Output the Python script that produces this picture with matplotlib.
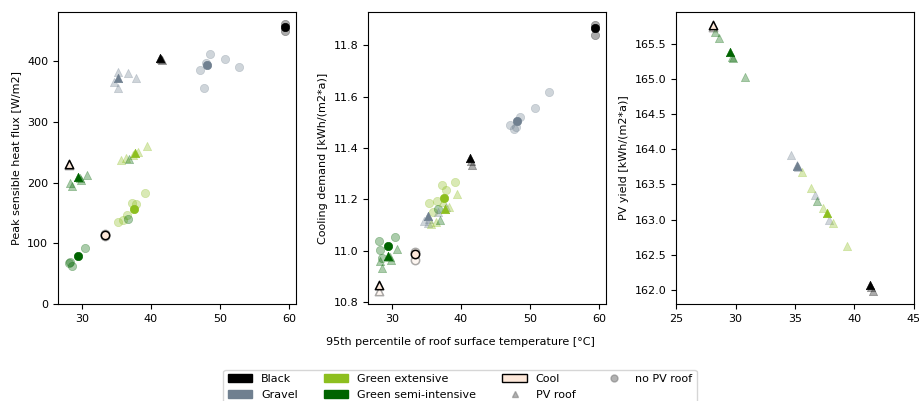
import matplotlib.pyplot as plt
from matplotlib.patches import Patch
from matplotlib.lines import Line2D

plt.rcParams['font.family'] = ['DejaVu Sans']
plt.rcParams['font.size'] = 8

# roofs without PV (first point of each roof type = reference variant)
nopv_roof = ['Black', 'Black', 'Black',
             'Gravel', 'Gravel', 'Gravel', 'Gravel', 'Gravel', 'Gravel', 'Gravel',
             'Cool', 'Cool', 'Cool',
             'Green extensive', 'Green extensive', 'Green extensive', 'Green extensive',
             'Green extensive', 'Green extensive', 'Green extensive',
             'Green semi-intensive', 'Green semi-intensive', 'Green semi-intensive',
             'Green semi-intensive', 'Green semi-intensive', 'Green semi-intensive']
nopv_main = [1, 0, 0,
             1, 0, 0, 0, 0, 0, 0,
             1, 0, 0,
             1, 0, 0, 0, 0, 0, 0,
             1, 0, 0, 0, 0, 0]
nopv_temp = [59.5, 59.5, 59.5,
             48.2, 47.1, 48.5, 47.7, 50.7, 52.8, 48.0,
             33.4, 33.4, 33.4,
             37.6, 35.3, 35.9, 36.6, 37.2, 37.9, 39.2,
             29.4, 28.1, 28.5, 30.5, 28.3, 36.7]
nopv_flux = [456, 450, 461,
             393, 385, 412, 356, 403, 390, 397,
             114, 112, 116,
             157, 135, 138, 146, 167, 164, 183,
             79, 67, 63, 92, 69, 140]
nopv_cool = [11.867, 11.839, 11.877,
             11.506, 11.490, 11.519, 11.474, 11.556, 11.617, 11.483,
             10.986, 10.963, 10.995,
             11.205, 11.187, 11.150, 11.195, 11.257, 11.235, 11.266,
             11.020, 11.037, 10.973, 11.053, 11.002, 11.164]

# roofs with PV
pv_roof = ['Black', 'Black', 'Black',
           'Gravel', 'Gravel', 'Gravel', 'Gravel', 'Gravel', 'Gravel',
           'Cool', 'Cool',
           'Green extensive', 'Green extensive', 'Green extensive',
           'Green extensive', 'Green extensive', 'Green extensive',
           'Green semi-intensive', 'Green semi-intensive', 'Green semi-intensive',
           'Green semi-intensive', 'Green semi-intensive', 'Green semi-intensive',
           'Green semi-intensive']
pv_main = [1, 0, 0,
           1, 0, 0, 0, 0, 0,
           1, 0,
           1, 0, 0, 0, 0, 0,
           1, 0, 0, 0, 0, 0, 0]
pv_temp = [41.35, 41.6, 41.45,
           35.2, 34.7, 35.3, 35.2, 36.7, 37.9,
           28.1, 28.1,
           37.7, 35.6, 36.4, 37.4, 38.2, 39.4,
           29.5, 29.8, 29.7, 28.3, 28.6, 30.8, 36.9]
pv_flux = [405, 402, 404,
           373, 366, 382, 355, 380, 373,
           230, 229,
           248, 237, 240, 246, 250, 260,
           209, 205, 207, 200, 194, 213, 238]
pv_cool = [11.360, 11.335, 11.350,
           11.135, 11.115, 11.125, 11.110, 11.150, 11.170,
           10.867, 10.845,
           11.161, 11.105, 11.112, 11.190, 11.170, 11.222,
           10.981, 10.964, 10.975, 10.960, 10.932, 11.009, 11.119]
pv_yield = [162.07, 161.99, 162.04,
            163.76, 163.92, 163.74, 163.78, 163.35, 163.00,
            165.76, 165.74,
            163.10, 163.68, 163.45, 163.16, 162.95, 162.62,
            165.38, 165.29, 165.31, 165.67, 165.58, 165.02, 163.27]

roof_types = ['Black', 'Gravel', 'Green extensive', 'Green semi-intensive', 'Cool']
face = {'Black': 'black', 'Gravel': '#708090', 'Green extensive': '#8dbf1f',
        'Green semi-intensive': '#006400', 'Cool': '#fde8da'}
edge = {'Black': 'black', 'Gravel': '#708090', 'Green extensive': '#8dbf1f',
        'Green semi-intensive': '#006400', 'Cool': 'black'}

fig = plt.figure(figsize=(9.2, 4.01), dpi=100)
ax1 = fig.add_axes([0.063, 0.242, 0.259, 0.728])
ax2 = fig.add_axes([0.400, 0.242, 0.259, 0.728])
ax3 = fig.add_axes([0.735, 0.242, 0.258, 0.728])


def draw(ax, roofs, mains, xs, ys, marker):
    # faded variants first, reference variants on top
    for highlight in (0, 1):
        for r, m, x, y in zip(roofs, mains, xs, ys):
            if m != highlight:
                continue
            lw = 1.1 if r == 'Cool' else 0.5
            ax.scatter(x, y, s=36, marker=marker, facecolor=face[r],
                       edgecolor=edge[r], linewidth=lw,
                       alpha=1.0 if m else 0.33, zorder=3 if m else 2)


draw(ax1, nopv_roof, nopv_main, nopv_temp, nopv_flux, 'o')
draw(ax1, pv_roof, pv_main, pv_temp, pv_flux, '^')
ax1.set_ylim(bottom=0)
ax1.set_xticks([30, 40, 50, 60])
ax1.set_ylabel('Peak sensible heat flux [W/m2]')

draw(ax2, nopv_roof, nopv_main, nopv_temp, nopv_cool, 'o')
draw(ax2, pv_roof, pv_main, pv_temp, pv_cool, '^')
ax2.set_xticks([30, 40, 50, 60])
ax2.set_ylabel('Cooling demand [kWh/(m2*a)]')

draw(ax3, pv_roof, pv_main, pv_temp, pv_yield, '^')
ax3.set_xlim(25, 45)
ax3.set_ylabel('PV yield [kWh/(m2*a)]')

fig.text(0.5, 1 - 342 / 401, '95th percentile of roof surface temperature [°C]',
         ha='center', va='center')

handles = [Patch(facecolor=face[r], edgecolor=edge[r] if r in ('Black', 'Cool') else face[r],
                 label=r) for r in roof_types]
handles.append(Line2D([], [], marker='^', ls='none', color='gray', alpha=0.6,
                      markersize=5, label='PV roof'))
handles.append(Line2D([], [], marker='o', ls='none', color='gray', alpha=0.6,
                      markersize=5, label='no PV roof'))
fig.legend(handles=handles, ncol=4, loc='upper center', columnspacing=2.35,
           handlelength=2.2, bbox_to_anchor=(0.5, 1 - 364 / 401))

fig.savefig('out.png', dpi=100)
